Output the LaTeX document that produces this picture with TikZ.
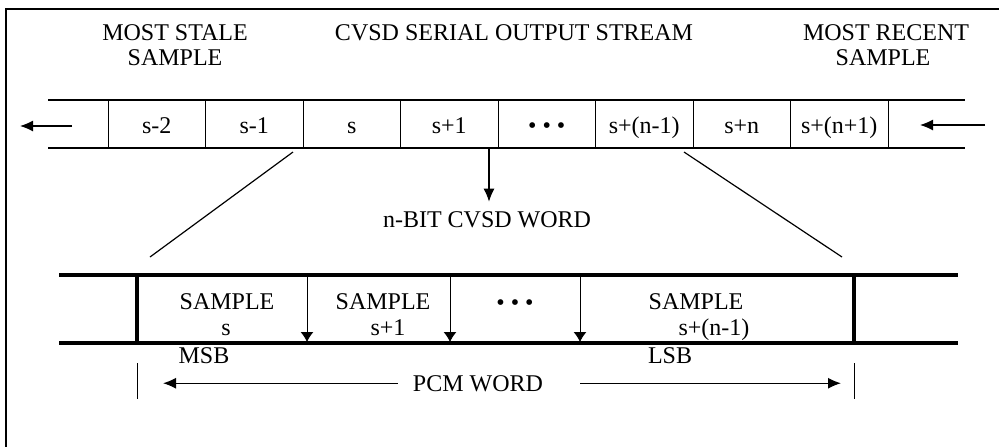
\documentclass[tikz,border=0pt]{standalone}
\usepackage{fontspec}
\setmainfont{Liberation Serif}
\usetikzlibrary{arrows.meta}
\tikzset{
  lbl/.style = {inner sep=0pt, anchor=base,
    font=\fontsize{12}{12.5}\selectfont},% text placed on its baseline
  thinline/.style = {line width=0.5pt},
  rail/.style = {line width=0.9pt},% serial stream edges
  bus/.style = {line width=2pt},% pcm word edges
  flow/.style = {line width=0.6pt, -{Latex[length=6.5pt,width=5.5pt]}},
  drop/.style = {line width=0.5pt, -{Latex[length=5pt,width=6.5pt]}},
}

\begin{document}
\begin{tikzpicture}[x=0.5pt, y=-0.5pt]
\useasboundingbox (0,0) rectangle (999,446);
% frame, cut by the page on the right and at the bottom
\draw[line width=0.7pt] (6,9) rectangle (1012,460);

% titles
\node[lbl] (stale)   at (175,40) {MOST STALE};
\node[lbl] (stale2)  at (175,65) {SAMPLE};
\node[lbl] (title)   at (514,40) {CVSD SERIAL OUTPUT STREAM};
\node[lbl] (recent)  at (886,40) {MOST RECENT};
\node[lbl] (recent2) at (883,65) {SAMPLE};

% serial output stream
\draw[rail] (48,100) -- (965,100);
\draw[rail] (48,148) -- (965,148);
\foreach \k in {0,...,8}
  \draw[thinline] ({108+97.5*\k},100) -- ({108+97.5*\k},148);
\foreach \t [count=\k from 0] in {s-2, s-1, s, s+1, {• • •}, s+(n-1), s+n, s+(n+1)}
  \node[lbl] (bit\k) at ({156.75+97.5*\k},133) {\t};

\coordinate (outA) at (72,126);
\coordinate (outB) at (20,126);
\coordinate (inA)  at (985,125);
\coordinate (inB)  at (920,125);
\draw[flow] (outA) -- (outB);
\draw[flow] (inA) -- (inB);

% n-bit word taken from the stream
\node[lbl, inner sep=4.5pt] (word) at (487,227) {n-BIT CVSD WORD};
\coordinate (tap) at (489,148);
\draw[flow] (tap) -- (tap |- word.north);

\coordinate (zoomA) at (293,152);
\coordinate (zoomB) at (150,257);
\coordinate (zoomC) at (684,152);
\coordinate (zoomD) at (842,257);
\draw[line width=0.6pt] (zoomA) -- (zoomB);
\draw[line width=0.6pt] (zoomC) -- (zoomD);

% pcm word
\draw[bus] (59,275) -- (958,275);
\draw[bus] (59,343) -- (958,343);
\draw[bus] (137,275) -- (137,343);
\draw[bus] (854,275) -- (854,343);
\foreach \x in {307,450,580}
  \draw[drop] (\x,275) -- (\x,342);

\foreach \n/\x/\xi/\t in {1/227/226/s, 2/383/388/s+1, 3/696/714/s+(n-1)} {
  \node[lbl] (smp\n) at (\x,309) {SAMPLE};
  \node[lbl] (idx\n) at (\xi,335) {\t};
}
\node[lbl] (dots) at (515,310) {• • •};

\node[lbl] (msb) at (204,363) {MSB};
\node[lbl] (lsb) at (670,363) {LSB};

% word span
\node[lbl] (pcm) at (478,391) {PCM WORD};
\draw[thinline] (137,363) -- (137,399);
\draw[thinline] (854,363) -- (854,399);
\coordinate (msbtip) at (163,382);
\coordinate (lsbtip) at (841,382);
\draw[flow, shorten <=7.5pt] (pcm.west) -- (pcm.west -| msbtip);
\draw[flow, shorten <=18.5pt] (pcm.east) -- (pcm.east -| lsbtip);
\end{tikzpicture}
\end{document}
